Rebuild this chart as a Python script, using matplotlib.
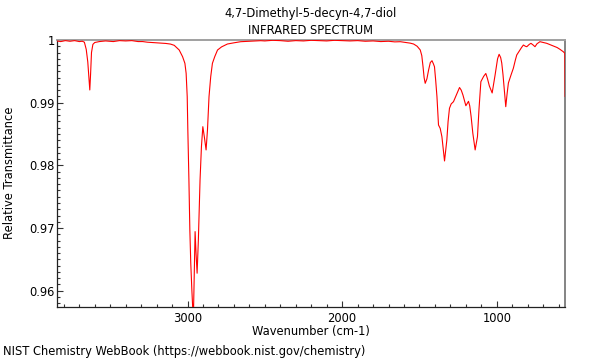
import matplotlib
matplotlib.use("Agg")
import matplotlib.pyplot as plt
from matplotlib.ticker import MultipleLocator, FuncFormatter

title = "4,7-Dimethyl-5-decyn-4,7-diol"
subtitle = "INFRARED SPECTRUM"
x_label = "Wavenumber (cm-1)"
y_label = "Relative Transmittance"
footer = "NIST Chemistry WebBook (https://webbook.nist.gov/chemistry)"

wavenumber = [
    3846, 3820, 3790, 3760, 3730, 3700, 3680, 3667, 3655, 3645, 3638, 3632, 3627, 3621,
    3612, 3600, 3570, 3530, 3480, 3440, 3400, 3360, 3320, 3290, 3260, 3230, 3200, 3170,
    3140, 3110, 3086, 3054, 3032, 3017, 3009, 3002, 2998, 2991, 2985, 2979, 2972, 2966,
    2961, 2956, 2951, 2945, 2938, 2930, 2919, 2910, 2901, 2891, 2880, 2871, 2861, 2850,
    2839, 2824, 2806, 2780, 2742, 2700, 2656, 2600, 2527, 2500, 2450, 2400, 2350, 2300,
    2250, 2200, 2150, 2100, 2050, 2000, 1950, 1900, 1850, 1800, 1750, 1700, 1660, 1624,
    1590, 1560, 1538, 1515, 1495, 1485, 1477, 1470, 1463, 1452, 1441, 1430, 1419, 1410,
    1403, 1395, 1387, 1377, 1366, 1355, 1338, 1330, 1323, 1315, 1306, 1295, 1280, 1260,
    1241, 1230, 1219, 1200, 1183, 1175, 1166, 1155, 1140, 1125, 1115, 1103, 1085, 1071,
    1060, 1048, 1030, 1011, 995, 985, 975, 968, 960, 953, 942, 933, 925, 908, 893, 880,
    871, 850, 840, 828, 815, 806, 790, 779, 765, 753, 740, 721, 700, 677, 660, 635, 610,
    592, 570, 560, 558,
]
transmittance = [
    0.99985, 0.99975, 0.99990, 0.99980, 0.99990, 0.99975, 0.99980, 0.99965, 0.99850, 0.99650, 0.99400, 0.99203, 0.99450, 0.99800,
    0.99930, 0.99960, 0.99975, 0.99985, 0.99975, 0.99990, 0.99985, 0.99990, 0.99975, 0.99975, 0.99965, 0.99960, 0.99955, 0.99950,
    0.99945, 0.99935, 0.99915, 0.99841, 0.99734, 0.99628, 0.99469, 0.99096, 0.98565, 0.97767, 0.96970, 0.96438, 0.96013, 0.95700,
    0.95700, 0.96300, 0.96943, 0.96600, 0.96279, 0.96800, 0.97767, 0.98300, 0.98617, 0.98450, 0.98246, 0.98565, 0.99096, 0.99415,
    0.99628, 0.99734, 0.99840, 0.99890, 0.99936, 0.99955, 0.99973, 0.99980, 0.99989, 0.99985, 0.99995, 0.99990, 0.99980, 0.99990,
    0.99985, 0.99995, 0.99990, 0.99985, 0.99995, 0.99990, 0.99985, 0.99990, 0.99980, 0.99985, 0.99975, 0.99980, 0.99970, 0.99973,
    0.99960, 0.99950, 0.99936, 0.99900, 0.99841, 0.99750, 0.99574, 0.99400, 0.99309, 0.99380, 0.99522, 0.99640, 0.99670, 0.99620,
    0.99574, 0.99350, 0.99096, 0.98644, 0.98590, 0.98458, 0.98070, 0.98250, 0.98405, 0.98700, 0.98911, 0.98980, 0.99016, 0.99130,
    0.99242, 0.99200, 0.99123, 0.98951, 0.99022, 0.98950, 0.98777, 0.98512, 0.98246, 0.98458, 0.98900, 0.99335, 0.99420, 0.99466,
    0.99380, 0.99266, 0.99155, 0.99442, 0.99700, 0.99772, 0.99720, 0.99633, 0.99450, 0.99255, 0.98936, 0.99150, 0.99314, 0.99442, 0.99549, 0.99680,
    0.99761, 0.99841, 0.99880, 0.99920, 0.99900, 0.99893, 0.99930, 0.99947, 0.99920, 0.99893, 0.99940, 0.99973, 0.99960, 0.99947, 0.99930, 0.99904, 0.99880,
    0.99852, 0.99813, 0.99788, 0.99100,
]
x_ticks = [3000, 2000, 1000]
y_ticks = [0.96, 0.97, 0.98, 0.99, 1.0]

FS = 8.3
fig = plt.figure(figsize=(6, 3.6), dpi=100)
ax = fig.add_axes([56.7 / 600, 1 - 306.7 / 360, (565.3 - 56.7) / 600, (306.7 - 40) / 360])
ax.plot(wavenumber, transmittance, color="#ff0000", lw=0.8, zorder=3)
ax.set_xlim(3846, 557)
ax.set_ylim(0.95745, 1.0)

ax.set_xticks(x_ticks)
ax.set_yticks(y_ticks)
ax.xaxis.set_minor_locator(MultipleLocator(100))
ax.yaxis.set_minor_locator(MultipleLocator(0.001))
ax.yaxis.set_major_formatter(FuncFormatter(lambda v, p: "1" if abs(v - 1) < 1e-9 else f"{v:.2f}"))
ax.tick_params(which="both", direction="in", top=False, right=False, labelsize=FS, width=0.8, color="#333333")
ax.tick_params(which="major", length=4)
ax.tick_params(which="minor", length=2.2)
ax.tick_params(axis="y", pad=1.5)
ax.tick_params(axis="x", pad=4)

for s in ["left", "bottom"]:
    ax.spines[s].set_color("#222222")
    ax.spines[s].set_linewidth(0.9)
ax.spines["top"].set_color("#a0a0a0")
ax.spines["top"].set_linewidth(1.4)
ax.spines["right"].set_color("#707070")
ax.spines["right"].set_linewidth(1.2)

fig.text(311 / 600, 1 - 14 / 360, title, ha="center", va="center", fontsize=FS)
fig.text(311 / 600, 1 - 30 / 360, subtitle, ha="center", va="center", fontsize=FS)
fig.text(311 / 600, 1 - 332 / 360, x_label, ha="center", va="center", fontsize=FS)
fig.text(10 / 600, 1 - 173 / 360, y_label, ha="center", va="center", rotation=90, fontsize=FS)
fig.text(3 / 600, 1 - 352 / 360, footer, ha="left", va="center", fontsize=FS)

fig.savefig("out.png", dpi=100)
